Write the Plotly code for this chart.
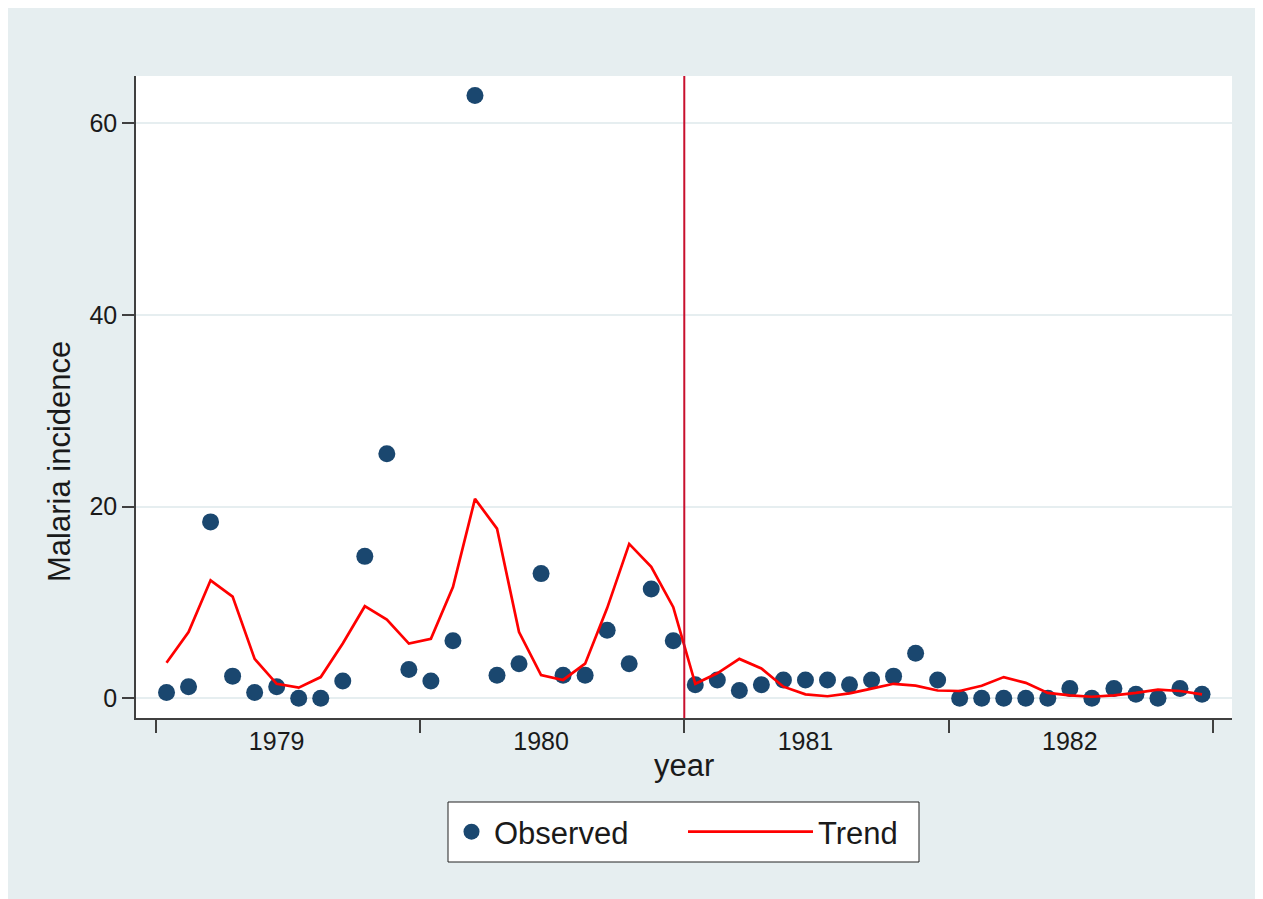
import plotly.graph_objects as go

# monthly series Jan 1979 .. Dec 1982 (month index 0..47)
months = list(range(48))

observed = [
    0.6, 1.2, 18.4, 2.3, 0.6, 1.2, 0.0, 0.0, 1.8, 14.8, 25.5, 3.0,
    1.8, 6.0, 62.9, 2.4, 3.6, 13.0, 2.4, 2.4, 7.1, 3.6, 11.4, 6.0,
    1.4, 1.9, 0.8, 1.4, 1.9, 1.9, 1.9, 1.4, 1.9, 2.3, 4.7, 1.9,
    0.0, 0.0, 0.0, 0.0, 0.0, 1.0, 0.0, 1.0, 0.4, 0.0, 1.0, 0.4,
]

trend = [
    3.7, 6.9, 12.3, 10.6, 4.1, 1.5, 1.1, 2.2, 5.7, 9.6, 8.2, 5.7,
    6.2, 11.6, 20.8, 17.7, 6.9, 2.4, 1.9, 3.6, 9.4, 16.1, 13.7, 9.5,
    1.5, 2.6, 4.1, 3.1, 1.2, 0.4, 0.2, 0.5, 1.0, 1.5, 1.3, 0.8,
    0.75, 1.3, 2.2, 1.6, 0.55, 0.3, 0.15, 0.3, 0.55, 0.9, 0.75, 0.4,
]

year_labels = ["1979", "1980", "1981", "1982"]
year_label_pos = [5, 17, 29, 41]
year_bounds = [-0.5, 11.5, 23.5, 35.5, 47.5]
intervention = 23.5

BG = "#e6eef0"
NAVY = "#1a476f"
AXIS = "#404040"
FONT = "Arial, Liberation Sans, sans-serif"

# page has an 8px body margin, so the figure is a bit smaller than the window
W, H = 1255, 891
ML, MR, MT, MB = 128, 31, 68, 181
pw, ph = W - ML - MR, H - MT - MB
OX, OY = 8 + ML, 8 + MT  # page pixel of plot-area top-left


def px_x(x):
    return (x - OX) / pw


def px_y(y):
    return 1 - (y - OY) / ph


fig = go.Figure()
fig.add_trace(go.Scatter(
    x=months, y=observed, mode="markers", name="Observed",
    marker=dict(color=NAVY, size=17, line=dict(width=0)),
    legend="legend",
))
fig.add_trace(go.Scatter(
    x=months, y=trend, mode="lines", name="Trend",
    line=dict(color="#ff0000", width=2.7),
    legend="legend2",
))

fig.add_vline(x=intervention, line=dict(color="#c8102e", width=2))

# legend frame shared by the two legend groups
fig.add_shape(type="rect", xref="paper", yref="paper",
              x0=px_x(448), x1=px_x(919), y0=px_y(862), y1=px_y(802),
              fillcolor="white", line=dict(color="#222", width=1), layer="above")

leg_common = dict(orientation="h", yanchor="middle", y=px_y(832),
                  bgcolor="rgba(0,0,0,0)", borderwidth=0, font=dict(size=31))

fig.update_layout(
    width=W, height=H,
    margin=dict(l=ML, r=MR, t=MT, b=MB),
    paper_bgcolor=BG, plot_bgcolor="white",
    font=dict(family=FONT, size=25, color="#1a1a1a"),
    showlegend=True,
    legend=dict(x=px_x(449), xanchor="left", itemwidth=35, **leg_common),
    legend2=dict(x=px_x(683), xanchor="left", itemwidth=125, **leg_common),
    annotations=[
        dict(text="Malaria incidence", textangle=-90,
             x=px_x(59), y=px_y(462),
             xanchor="center", yanchor="middle",
             xref="paper", yref="paper", showarrow=False, font=dict(size=31)),
        dict(text="year", x=0.5, y=-0.044, xref="paper", yref="paper",
             xanchor="center", yanchor="top",
             showarrow=False, font=dict(size=31)),
    ],
)

fig.update_xaxes(
    range=[-1.385, 48.36],
    tickmode="array", tickvals=year_label_pos, ticktext=year_labels,
    ticks="outside", ticklen=0, ticklabelstandoff=0,
    showgrid=False, zeroline=False,
    showline=True, linecolor=AXIS, linewidth=1.5,
    minor=dict(tickmode="array", tickvals=year_bounds, ticks="outside",
               ticklen=13, tickwidth=1.5, tickcolor=AXIS, showgrid=False),
)
fig.update_yaxes(
    range=[-2.07, 64.94],
    tickmode="array", tickvals=[0, 20, 40, 60],
    ticks="outside", ticklen=12, tickwidth=1.5, tickcolor=AXIS,
    showgrid=True, gridcolor=BG, gridwidth=2, zeroline=False,
    showline=True, linecolor=AXIS, linewidth=1.5,
)

fig.write_html("out.html")
